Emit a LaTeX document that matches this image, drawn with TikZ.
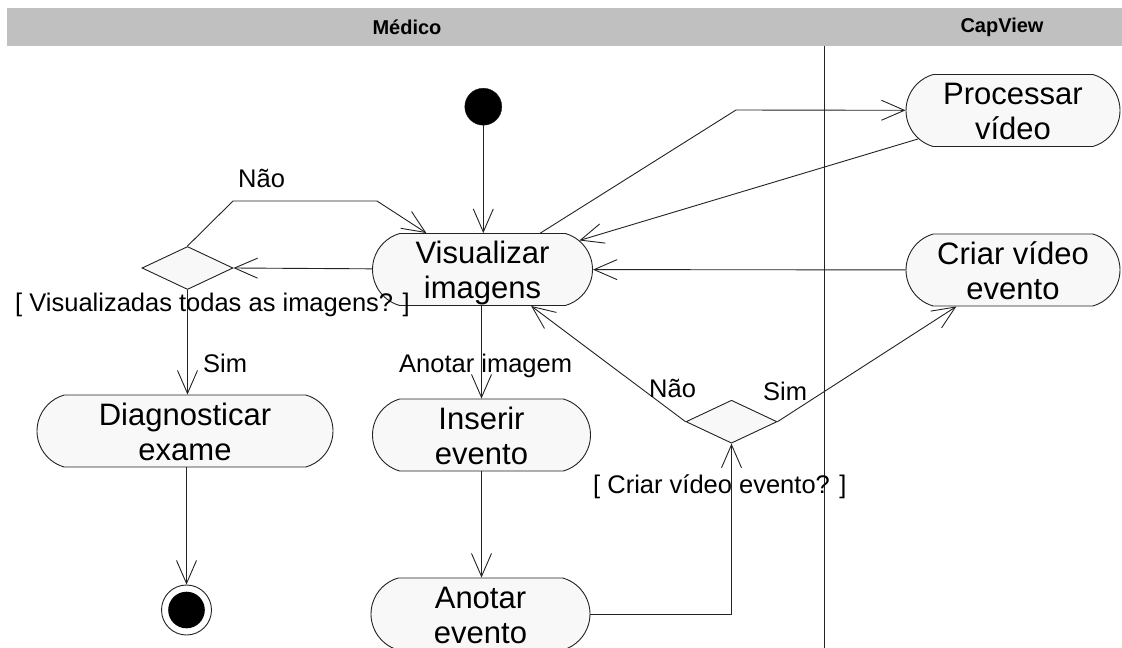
\documentclass[tikz,border=0pt]{standalone}
\usepackage{fontspec}
\setmainfont{Liberation Sans}
\usetikzlibrary{shapes.geometric,shapes.misc,arrows.meta}
\definecolor{hdr}{HTML}{C0C0C0}
\definecolor{nodefill}{HTML}{F8F8F8}
\definecolor{ln}{HTML}{222222}
\newcommand{\twoline}[2]{\rule{0pt}{30pt}#1\\#2\rule[-7pt]{0pt}{7pt}}
\begin{document}
\begin{tikzpicture}[x=1pt,y=-1pt,
  act/.style={rounded rectangle, rounded rectangle arc length=148, draw=ln, fill=nodefill,
    line width=0.9pt, minimum height=72pt, inner sep=0pt, align=center,
    font=\fontsize{31}{35}\selectfont},
  dec/.style={diamond, draw=ln, fill=nodefill, line width=0.9pt,
    minimum width=91pt, minimum height=43pt, inner sep=0pt},
  flow/.style={draw=ln, line width=0.9pt, -{Straight Barb[length=23pt,width=20pt]}},
  lbl/.style={font=\fontsize{25.5}{30}\selectfont, inner sep=0pt, anchor=base west},
  hdrtxt/.style={font=\bfseries\fontsize{20}{24}\selectfont, inner sep=0pt}]
\useasboundingbox (0,0) rectangle (1122,648);
% header and lanes
\fill[hdr] (7,8) rectangle (1122,46);
\node[hdrtxt] (hm) at (407,27) {Médico};
\node[hdrtxt] (hc) at (1002,27) {CapView};
\draw[ln, line width=1.3pt] (824.5,46) -- (824.5,650);
% nodes
\node[circle, fill=black, draw=ln, minimum size=37pt, inner sep=0pt] (init) at (483.3,106.7) {};
\node[act, minimum width=220pt] (vis) at (482.5,269.5) {\twoline{Visualizar}{imagens}};
\node[act, minimum width=214pt] (proc) at (1013,110.5) {\twoline{Processar}{vídeo}};
\node[act, minimum width=214pt] (criar) at (1013,270) {\twoline{Criar vídeo}{evento}};
\node[dec] (d1) at (187.5,268) {};
\node[act, minimum width=296pt] (diag) at (185,431) {\twoline{Diagnosticar}{exame}};
\node[act, minimum width=218pt] (ins) at (481.5,435) {\twoline{Inserir}{evento}};
\node[act, minimum width=219pt] (anot) at (480.5,614) {\twoline{Anotar}{evento}};
\node[dec] (d2) at (731.5,421.7) {};
\node[circle, draw=ln, fill=white, line width=0.9pt, minimum size=50pt, inner sep=0pt] (final) at (186.5,610) {};
\fill[black] (final.center) circle (18.3pt);
% bend points
\coordinate (b1) at (233,201);
\coordinate (b2) at (377,201);
\coordinate (b3) at (736,110);
% connectors
\draw[flow] (init) -- (init |- vis.north);
\draw[flow] (vis) -- (d1.east);
\draw[flow] (d1.north) -- (b1) -- (b2) -- (vis);
\draw[flow] (d1.south) -- (d1.south |- diag.north);
\draw[flow] (diag.south -| final) -- (final);
\draw[flow] (vis.south -| ins.north) -- (ins.north);
\draw[flow] (ins.south) -- (ins.south |- anot.north);
\draw[flow] (anot.east) -| (d2.south);
\draw[flow] (d2.west) -- (vis);
\draw[flow] (d2.east) -- (criar);
\draw[flow] (vis) -- (b3) -- (proc);
\draw[flow] (proc) -- (vis);
\draw[flow] (criar) -- (vis);
% labels
\node[lbl] (lnao1) at (238,187) {Não};
\node[lbl] (lg1) at (15,311) {[ Visualizadas todas as imagens? ]};
\node[lbl] (lsim1) at (203,372) {Sim};
\node[lbl] (lanot) at (399,372.7) {Anotar imagem};
\node[lbl] (lnao2) at (649,397) {Não};
\node[lbl] (lsim2) at (763,400) {Sim};
\node[lbl] (lg2) at (593,493) {[ Criar vídeo evento? ]};
\end{tikzpicture}
\end{document}
